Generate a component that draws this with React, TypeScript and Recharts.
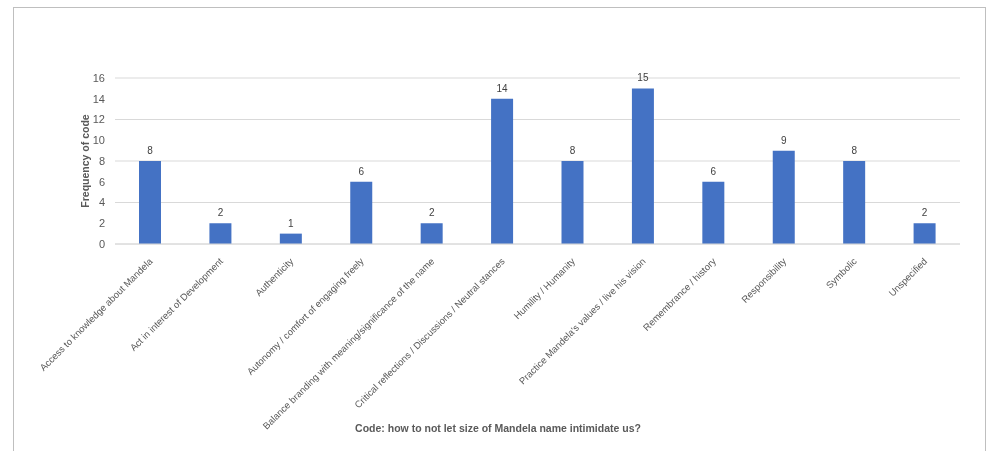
import React from 'react';
import { BarChart, Bar, XAxis, YAxis, CartesianGrid, LabelList } from 'recharts';

const categories = [
  'Access to knowledge about Mandela',
  'Act in interest of Development',
  'Authenticity',
  'Autonomy / comfort of engaging freely',
  'Balance branding with meaning/significance of the name',
  'Critical reflections / Discussions / Neutral stances',
  'Humility / Humanity',
  "Practice Mandela's values / live his vision",
  'Remembrance / history',
  'Responsibility',
  'Symbolic',
  'Unspecified',
];

const frequencies = [8, 2, 1, 6, 2, 14, 8, 15, 6, 9, 8, 2];

const yTicks = [0, 2, 4, 6, 8, 10, 12, 14, 16];

const chartData = categories.map((code, i) => ({ code, count: frequencies[i] }));

const FONT = '"Liberation Sans", Arial, sans-serif';
const TEXT = '#595959';

const CategoryTick = (props: any) => {
  const { x, y, payload } = props;
  const tx = x + 3;
  const ty = y + 10;
  return (
    <text
      x={tx}
      y={ty}
      transform={`rotate(-45, ${tx}, ${ty})`}
      textAnchor="end"
      fontSize={9.5}
      fontFamily={FONT}
      fill={TEXT}
    >
      {payload.value}
    </text>
  );
};

export default function App() {
  return (
    <div>
      <div
        style={{
          position: 'fixed',
          left: 13,
          top: 7,
          width: 971,
          height: 444,
          borderLeft: '1px solid #bfbfbf',
          borderTop: '1px solid #bfbfbf',
          borderRight: '1px solid #bfbfbf',
        }}
      />
      <div style={{ position: 'fixed', left: 0, top: 0 }}>
        <BarChart
          width={987}
          height={451}
          data={chartData}
          margin={{ top: 78, right: 27, left: 0, bottom: 0 }}
          barSize={22}
        >
          <CartesianGrid vertical={false} stroke="#d9d9d9" />
          <XAxis
            dataKey="code"
            interval={0}
            height={207}
            tickLine={false}
            axisLine={{ stroke: '#d9d9d9' }}
            tick={<CategoryTick />}
          />
          <YAxis
            width={115}
            domain={[0, 16]}
            ticks={yTicks}
            tickLine={false}
            axisLine={false}
            tickMargin={4}
            tick={{ fontSize: 11, fontFamily: FONT, fill: TEXT }}
          />
          <Bar dataKey="count" fill="#4472C4" isAnimationActive={false}>
            <LabelList
              dataKey="count"
              position="top"
              offset={7}
              style={{ fontSize: 10, fontFamily: FONT, fill: '#404040' }}
            />
          </Bar>
          <text
            x={86}
            y={161}
            transform="rotate(-90, 86, 161)"
            textAnchor="middle"
            dominantBaseline="middle"
            fontSize={10.5}
            fontWeight="bold"
            fontFamily={FONT}
            fill={TEXT}
          >
            Frequency of code
          </text>
          <text
            x={498}
            y={429}
            textAnchor="middle"
            dominantBaseline="middle"
            fontSize={10.5}
            fontWeight="bold"
            fontFamily={FONT}
            fill={TEXT}
          >
            Code: how to not let size of Mandela name intimidate us?
          </text>
        </BarChart>
      </div>
    </div>
  );
}
